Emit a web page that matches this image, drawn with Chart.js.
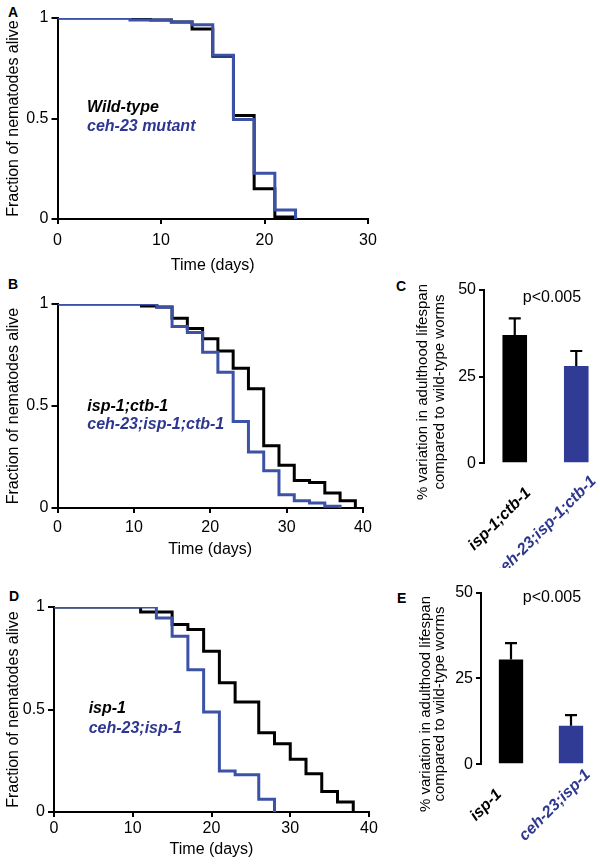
<!DOCTYPE html>
<html><head><meta charset="utf-8">
<script src="https://cdn.jsdelivr.net/npm/chart.js@4/dist/chart.umd.min.js"></script>
<style>
html,body{margin:0;padding:0;width:600px;height:868px;overflow:hidden;background:#fff;}
canvas{position:absolute;}
.lbl{position:absolute;font:bold 14px "Liberation Sans",Arial,sans-serif;color:#000;line-height:14px;}
</style></head><body>
<div class="lbl" style="left:8px;top:5px">A</div>
<div class="lbl" style="left:8px;top:277px">B</div>
<div class="lbl" style="left:396px;top:279px">C</div>
<div class="lbl" style="left:9px;top:589px">D</div>
<div class="lbl" style="left:397px;top:591px">E</div>
<canvas id="cA" width="390" height="280" style="left:0;top:0"></canvas>
<canvas id="cB" width="390" height="285" style="left:0;top:280px"></canvas>
<canvas id="cD" width="390" height="288" style="left:0;top:580px"></canvas>
<canvas id="cC" width="230" height="298" style="left:390px;top:270px"></canvas>
<canvas id="cE" width="230" height="288" style="left:390px;top:580px"></canvas>
<script>
// ---------- data ----------
// Panel A
const aWildTypeDays = [0, 9, 11, 13, 15, 17, 19, 21, 23];
const aWildTypeFrac = [1, 0.99, 0.98, 0.945, 0.81, 0.515, 0.15, 0.01, 0];
const aCeh23Days    = [0, 7, 11, 13, 15, 17, 19, 21, 23];
const aCeh23Frac    = [1, 0.99, 0.98, 0.967, 0.815, 0.495, 0.228, 0.045, 0];
// Panel B
const bIspCtbDays      = [0, 11, 13, 15, 17, 19, 21, 23, 25, 27, 29, 31, 33, 35, 37, 39];
const bIspCtbFrac      = [1, 0.99, 0.985, 0.93, 0.88, 0.83, 0.77, 0.685, 0.585, 0.305, 0.21, 0.135, 0.125, 0.073, 0.036, 0];
const bCehIspCtbDays   = [0, 13, 15, 17, 19, 21, 23, 25, 27, 29, 31, 33, 35, 37];
const bCehIspCtbFrac   = [1, 0.984, 0.89, 0.86, 0.763, 0.665, 0.424, 0.274, 0.183, 0.065, 0.036, 0.024, 0.008, 0];
// Panel D
const dIspDays    = [0, 11, 15, 17, 19, 21, 23, 26, 28, 30, 32, 34, 36, 38];
const dIspFrac    = [1, 0.976, 0.915, 0.89, 0.784, 0.63, 0.537, 0.387, 0.333, 0.257, 0.187, 0.10, 0.049, 0];
const dCehIspDays = [0, 13, 15, 17, 19, 21, 23, 26, 28];
const dCehIspFrac = [1, 0.946, 0.857, 0.694, 0.488, 0.2, 0.182, 0.062, 0];
// Panel C
const cCategories = ['isp-1;ctb-1', 'ceh-23;isp-1;ctb-1'];
const cValues     = [37.0, 28.1];
const cErrors     = [4.8, 4.3];
// Panel E
const eCategories = ['isp-1', 'ceh-23;isp-1'];
const eValues     = [30.5, 11.2];
const eErrors     = [4.8, 3.1];
// Tick labels
const survYTicks = [0, 0.5, 1];
const aXTicks    = [0, 10, 20, 30];
const bdXTicks   = [0, 10, 20, 30, 40];
const barYTicks  = [0, 25, 50];

// ---------- styles ----------
const FAM = "'Liberation Sans', Arial, Helvetica, sans-serif";
const LINE_BLUE = '#3c52a6';
const BAR_BLUE = '#2f3b94';
const TEXT_BLUE = '#2e3790';

function xy(days, frac) { return days.map((d, i) => ({x: d, y: frac[i]})); }

function annotPlugin(items) {
  return {
    id: 'annot',
    afterDraw(chart) {
      const ctx = chart.ctx;
      items.forEach(it => {
        let x = it.x, y = it.y;
        if (it.data) { x = chart.scales.x.getPixelForValue(it.x); y = chart.scales.y.getPixelForValue(it.y); }
        if (it.cat !== undefined) { x = chart.scales.x.getPixelForValue(it.cat) + it.dx; y = chart.scales.x.top + it.dy; }
        ctx.save();
        ctx.font = it.font; ctx.fillStyle = it.color;
        ctx.textAlign = it.align || 'left'; ctx.textBaseline = 'middle';
        ctx.translate(x, y);
        if (it.rotate) ctx.rotate(it.rotate);
        ctx.fillText(it.text, 0, 0);
        ctx.restore();
      });
    }
  };
}

function errPlugin(values, errors) {
  return {
    id: 'errbars',
    afterDatasetsDraw(chart) {
      const ctx = chart.ctx, ys = chart.scales.y;
      const meta = chart.getDatasetMeta(0);
      ctx.save();
      ctx.strokeStyle = '#000'; ctx.lineWidth = 2.2; ctx.lineCap = 'butt';
      meta.data.forEach((bar, i) => {
        const x = bar.x;
        const y0 = ys.getPixelForValue(values[i]);
        const y1 = ys.getPixelForValue(values[i] + errors[i]);
        ctx.beginPath();
        ctx.moveTo(x, y0); ctx.lineTo(x, y1);
        ctx.moveTo(x - 6, y1); ctx.lineTo(x + 6, y1);
        ctx.stroke();
      });
      ctx.restore();
    }
  };
}

function survChart(id, c) {
  new Chart(document.getElementById(id), {
    type: 'line',
    data: { datasets: [
      { data: xy(c.blueDays, c.blueFrac), borderColor: LINE_BLUE, borderWidth: 3, stepped: 'before',
        pointRadius: 0, fill: false, order: 0, borderCapStyle: 'butt', borderJoinStyle: 'miter' },
      { data: xy(c.blackDays, c.blackFrac), borderColor: '#000', borderWidth: 3, stepped: 'before',
        pointRadius: 0, fill: false, order: 1, borderCapStyle: 'butt', borderJoinStyle: 'miter' }
    ]},
    options: {
      responsive: false, animation: false, events: [],
      layout: { padding: { left: 0, top: c.padTop, right: c.padRight, bottom: 0 } },
      plugins: { legend: { display: false }, tooltip: { enabled: false } },
      scales: {
        x: {
          type: 'linear', min: 0, max: c.xMax,
          afterBuildTicks: s => { s.ticks = c.xTicks.map(v => ({value: v})); },
          afterFit: s => { s.height = c.xH; },
          grid: { display: true, drawOnChartArea: false, drawTicks: true, tickLength: 5, color: '#000', lineWidth: 2 },
          border: { display: true, color: '#000', width: 2 },
          ticks: { color: '#000', font: { family: FAM, size: 16 }, padding: c.tickPad, maxRotation: 0, autoSkip: false,
                   callback: v => String(v) },
          title: { display: true, text: 'Time (days)', color: '#000', font: { family: FAM, size: 16 },
                   padding: { top: 0, bottom: c.titlePad } }
        },
        y: {
          type: 'linear', min: 0, max: 1,
          afterBuildTicks: s => { s.ticks = survYTicks.map(v => ({value: v})); },
          afterFit: s => { s.width = c.yW; },
          grid: { display: true, drawOnChartArea: false, drawTicks: true, tickLength: 6, color: '#000', lineWidth: 2 },
          border: { display: true, color: '#000', width: 2 },
          ticks: { color: '#000', font: { family: FAM, size: 16 }, padding: 3, callback: v => String(v) },
          title: { display: true, text: 'Fraction of nematodes alive', color: '#000', font: { family: FAM, size: 16 },
                   padding: { top: 4, bottom: 0 } }
        }
      }
    },
    plugins: [annotPlugin(c.labels)]
  });
}

function barChart(id, c) {
  new Chart(document.getElementById(id), {
    type: 'bar',
    data: { labels: c.categories, datasets: [{
      data: c.values, backgroundColor: ['#000', BAR_BLUE], borderWidth: 0,
      barPercentage: c.barPct, categoryPercentage: 1
    }]},
    options: {
      responsive: false, animation: false, events: [],
      layout: { padding: { left: 0, top: c.padTop, right: c.padRight, bottom: 0 } },
      plugins: { legend: { display: false }, tooltip: { enabled: false } },
      scales: {
        x: {
          afterFit: s => { s.height = c.xH; },
          grid: { display: false }, border: { display: false },
          ticks: { display: false }
        },
        y: {
          min: 0, max: 50,
          afterBuildTicks: s => { s.ticks = barYTicks.map(v => ({value: v})); },
          afterFit: s => { s.width = c.yW; },
          grid: { display: true, drawOnChartArea: false, drawTicks: true, tickLength: 5, color: '#000', lineWidth: 2 },
          border: { display: true, color: '#000', width: 2 },
          ticks: { color: '#000', font: { family: FAM, size: 16 }, padding: 3, callback: v => String(v) }
        }
      }
    },
    plugins: [errPlugin(c.values, c.errors), annotPlugin(c.labels)]
  });
}

const F_LEG = "italic bold 16px " + FAM;
const F_TITLE = "15px " + FAM;
const F_P = "16px " + FAM;
const ROT45 = -Math.PI / 4;

survChart('cA', {
  blackDays: aWildTypeDays, blackFrac: aWildTypeFrac, blueDays: aCeh23Days, blueFrac: aCeh23Frac,
  xMax: 30, xTicks: aXTicks, padTop: 18, padRight: 22, yW: 57.5, xH: 61, tickPad: 7, titlePad: 5,
  labels: [
    { data: true, x: 2.85, y: 0.552, text: 'Wild-type', color: '#000', font: F_LEG },
    { data: true, x: 2.85, y: 0.458, text: 'ceh-23 mutant', color: TEXT_BLUE, font: F_LEG }
  ]
});
survChart('cB', {
  blackDays: bIspCtbDays, blackFrac: bIspCtbFrac, blueDays: bCehIspCtbDays, blueFrac: bCehIspCtbFrac,
  xMax: 40, xTicks: bdXTicks, padTop: 24, padRight: 27, yW: 57.5, xH: 57, tickPad: 5, titlePad: 6,
  labels: [
    { data: true, x: 3.9, y: 0.497, text: 'isp-1;ctb-1', color: '#000', font: F_LEG },
    { data: true, x: 3.9, y: 0.41, text: 'ceh-23;isp-1;ctb-1', color: TEXT_BLUE, font: F_LEG }
  ]
});
survChart('cD', {
  blackDays: dIspDays, blackFrac: dIspFrac, blueDays: dCehIspDays, blueFrac: dCehIspFrac,
  xMax: 40, xTicks: bdXTicks, padTop: 27, padRight: 21, yW: 54, xH: 56, tickPad: 2, titlePad: 9,
  labels: [
    { data: true, x: 4.4, y: 0.504, text: 'isp-1', color: '#000', font: F_LEG },
    { data: true, x: 4.4, y: 0.407, text: 'ceh-23;isp-1', color: TEXT_BLUE, font: F_LEG }
  ]
});
barChart('cC', {
  categories: cCategories, values: cValues, errors: cErrors,
  padTop: 20, padRight: 13, yW: 94, xH: 104.7, barPct: 0.4,
  labels: [
    { x: 33, y: 122, text: '% variation in adulthood lifespan', color: '#000', font: F_TITLE, align: 'center', rotate: -Math.PI / 2 },
    { x: 50, y: 122, text: 'compared to wild-type worms', color: '#000', font: F_TITLE, align: 'center', rotate: -Math.PI / 2 },
    { x: 162, y: 28, text: 'p<0.005', color: '#000', font: F_P, align: 'center' },
    { cat: 0, dx: -15, dy: 56, text: cCategories[0], color: '#000', font: F_LEG, align: 'center', rotate: ROT45 },
    { cat: 1, dx: -31, dy: 64, text: cCategories[1], color: TEXT_BLUE, font: F_LEG, align: 'center', rotate: ROT45 }
  ]
});
barChart('cE', {
  categories: eCategories, values: eValues, errors: eErrors,
  padTop: 12, padRight: 19, yW: 91, xH: 103.7, barPct: 0.405,
  labels: [
    { x: 35.5, y: 124, text: '% variation in adulthood lifespan', color: '#000', font: F_TITLE, align: 'center', rotate: -Math.PI / 2 },
    { x: 50, y: 124, text: 'compared to wild-type worms', color: '#000', font: F_TITLE, align: 'center', rotate: -Math.PI / 2 },
    { x: 162, y: 18, text: 'p<0.005', color: '#000', font: F_P, align: 'center' },
    { cat: 0, dx: -25, dy: 41, text: eCategories[0], color: '#000', font: F_LEG, align: 'center', rotate: ROT45 },
    { cat: 1, dx: -16, dy: 41, text: eCategories[1], color: TEXT_BLUE, font: F_LEG, align: 'center', rotate: ROT45 }
  ]
});
</script>
</body></html>
